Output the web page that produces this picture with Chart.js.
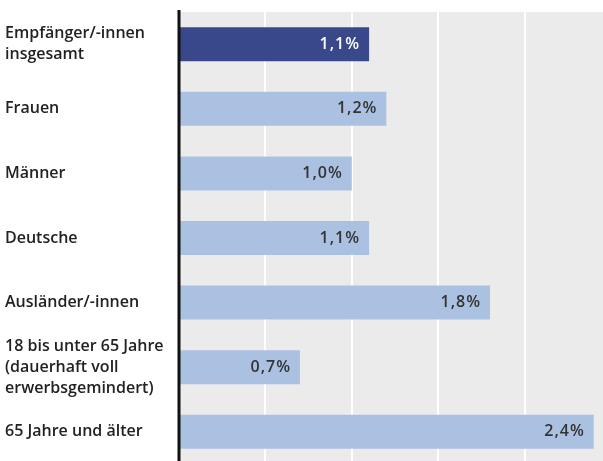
<!DOCTYPE html>
<html><head><meta charset="utf-8">
<script src="https://cdn.jsdelivr.net/npm/chart.js@4/dist/chart.umd.min.js"></script>
<style>html,body{margin:0;padding:0;background:#fff;overflow:hidden;}#wrap{width:603px;height:461px;overflow:hidden;position:relative;}</style>
</head><body><div id="wrap"><canvas id="c" width="611" height="465"></canvas></div>
<script>
const categories = [
  ["Empfänger/-innen","insgesamt"],
  "Frauen",
  "Männer",
  "Deutsche",
  "Ausländer/-innen",
  ["18 bis unter 65 Jahre","(dauerhaft voll","erwerbsgemindert)"],
  "65 Jahre und älter"
];
const values = [1.1, 1.2, 1.0, 1.1, 1.8, 0.7, 2.4];
const valueLabels = ["1,1%","1,2%","1,0%","1,1%","1,8%","0,7%","2,4%"];
const colors = ["#38488a","#abc1e1","#abc1e1","#abc1e1","#abc1e1","#abc1e1","#abc1e1"];
const labelColors = ["#ffffff","#333333","#333333","#333333","#333333","#333333","#333333"];

const bgPlugin = {
  id:'bg',
  beforeDraw(chart){
    const {ctx, chartArea:a} = chart;
    ctx.save(); ctx.fillStyle = '#ebebeb';
    ctx.fillRect(a.left, a.top, a.right - a.left, a.bottom - a.top);
    ctx.restore();
  }
};
const valPlugin = {
  id:'vals',
  afterDatasetsDraw(chart){
    const {ctx} = chart;
    const meta = chart.getDatasetMeta(0);
    ctx.save();
    ctx.font = "600 16px 'Open Sans', sans-serif";
    if ('letterSpacing' in ctx) ctx.letterSpacing = '1px';
    ctx.textAlign = 'right'; ctx.textBaseline = 'middle';
    meta.data.forEach((bar,i)=>{
      ctx.fillStyle = labelColors[i];
      ctx.fillText(valueLabels[i], bar.x - 9, bar.y);
    });
    ctx.restore();
  }
};
const axisLinePlugin = {
  id:'axisline',
  afterDraw(chart){
    const {ctx, chartArea:a} = chart;
    ctx.save(); ctx.fillStyle = '#111';
    ctx.fillRect(a.left - 1.5, 10, 3, 470);
    ctx.restore();
  }
};

new Chart(document.getElementById('c'), {
  type:'bar',
  data:{ labels: categories, datasets:[{ data: values, backgroundColor: colors, categoryPercentage:1, barPercentage:0.526 }]},
  options:{
    indexAxis:'y', responsive:false, animation:false, devicePixelRatio:1,
    layout:{ padding:{ left:5, top:12, right:0, bottom:1 } },
    plugins:{ legend:{display:false}, tooltip:{enabled:false} },
    scales:{
      x:{ min:0, max:2.5, ticks:{ display:false, stepSize:0.5 }, border:{display:false},
          grid:{ color:'#ffffff', lineWidth:2, drawTicks:false } },
      y:{ ticks:{ autoSkip:false, crossAlign:'far', color:'#222', font:{ family:"'Open Sans', sans-serif", size:16, weight:'600', lineHeight:'21px' } },
          grid:{ display:false }, border:{ display:false },
          afterFit(s){ s.width = 174; s.paddingTop = 0; s.paddingBottom = 0; } }
    }
  },
  plugins:[bgPlugin, valPlugin, axisLinePlugin]
});
</script></body></html>
